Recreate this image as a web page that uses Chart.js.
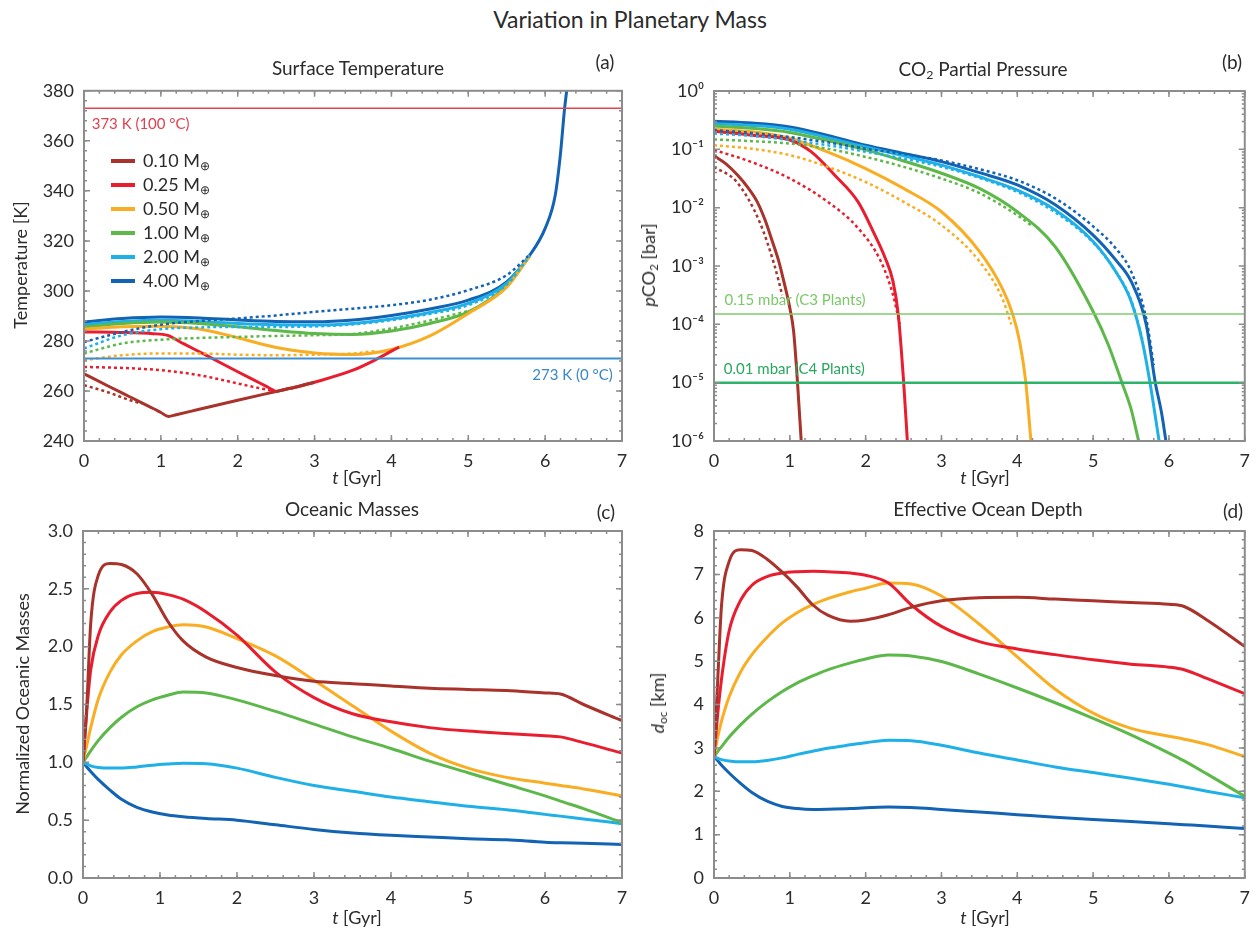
<!DOCTYPE html>
<html>
<head>
<meta charset="utf-8">
<script src="https://cdn.jsdelivr.net/npm/chart.js@4.4.1/dist/chart.umd.min.js"></script>
<style>
  body { margin: 0; background: #fff; }
  #page { position: relative; width: 1259px; height: 928px; overflow: hidden; font-family: Lato, "Open Sans", sans-serif; color: #2b2b2b; }
  canvas { position: absolute; }
  .txt { position: absolute; transform: translate(-50%, -50%); white-space: nowrap; line-height: 1; z-index: 2; }
  .rot { transform: translate(-50%, -50%) rotate(-90deg); }
  .main { font-size: 23px; }
  .sub { font-size: 19px; }
  .letter { font-size: 19px; }
  .axt { font-size: 18px; }
  sub { font-size: 65%; vertical-align: -0.25em; line-height: 0; }
  .leg { position: absolute; font-size: 18px; line-height: 1; white-space: nowrap; z-index: 2; transform: translateY(-50%); }
  .leg span.sw { display: inline-block; width: 24px; height: 4px; vertical-align: middle; margin-right: 8px; position: relative; top: -1px; }
</style>
</head>
<body>
<div id="page">
  <canvas id="chartA"></canvas>
  <canvas id="chartB"></canvas>
  <canvas id="chartC"></canvas>
  <canvas id="chartD"></canvas>

  <div class="txt main" style="left:630px; top:19px;">Variation in Planetary Mass</div>

  <div class="txt sub" style="left:358px; top:67px;">Surface Temperature</div>
  <div class="txt letter" style="left:605px; top:61px;">(a)</div>
  <div class="txt sub" style="left:983px; top:68px;">CO<sub>2</sub> Partial Pressure</div>
  <div class="txt letter" style="left:1232px; top:61px;">(b)</div>
  <div class="txt sub" style="left:352px; top:508px;">Oceanic Masses</div>
  <div class="txt letter" style="left:606px; top:511px;">(c)</div>
  <div class="txt sub" style="left:988px; top:508px;">Effective Ocean Depth</div>
  <div class="txt letter" style="left:1233px; top:510px;">(d)</div>

  <div class="txt axt" style="left:357px; top:477px;"><i>t</i> [Gyr]</div>
  <div class="txt axt" style="left:985px; top:477px;"><i>t</i> [Gyr]</div>
  <div class="txt axt" style="left:357px; top:917px;"><i>t</i> [Gyr]</div>
  <div class="txt axt" style="left:985px; top:917px;"><i>t</i> [Gyr]</div>

  <div class="txt axt rot" style="left:20px; top:265px;">Temperature [K]</div>
  <div class="txt axt rot" style="left:648px; top:265px;"><i>p</i>CO<sub>2</sub> [bar]</div>
  <div class="txt axt rot" style="left:22px; top:704px;">Normalized Oceanic Masses</div>
  <div class="txt axt rot" style="left:657px; top:703px;"><i>d</i><sub>oc</sub> [km]</div>

  <div id="legend"></div>
</div>

<script>
// planetary masses (Earth masses) and their colours
const massLabels = ["0.10", "0.25", "0.50", "1.00", "2.00", "4.00"];
const massColors = ["#a9322b", "#e91d2e", "#f9ad22", "#5db84a", "#1fb0e8", "#1263b3"];

// reference levels
const boilingK = 373;
const freezingK = 273;
const c3Limit = 1.5e-4;   // bar
const c4Limit = 1e-5;     // bar

// (a) surface temperature [K], solid lines
const tempT010 = [0, 0.3, 0.6, 0.9, 1.0, 1.1, 1.2, 1.5, 2.0, 2.5, 2.6, 2.8, 3.0];
const temp010 = [266.9, 262.2, 257.6, 253.0, 251.4, 249.8, 250.5, 252.7, 256.3, 259.8, 260.5, 261.9, 263.5];
const tempT025 = [0, 0.5, 0.9, 1.08, 1.3, 1.6, 2.0, 2.3, 2.4, 2.5, 2.6, 2.8, 3.0, 3.5, 3.8, 4.1];
const temp025 = [283.6, 283.4, 282.9, 282.3, 278.8, 274.1, 267.7, 263.0, 261.4, 259.8, 260.5, 261.9, 263.5, 268.3, 272.6, 277.6];
const tempT050 = [0, 0.5, 1, 1.5, 2, 2.5, 3, 3.5, 4, 4.5, 5, 5.5, 5.8];
const temp050 = [284.7, 285.7, 285.9, 284.8, 281.3, 277.4, 275.2, 274.6, 276.6, 282.0, 291.0, 301.5, 314.0];
const tempT100 = [0, 0.5, 1, 1.5, 2, 2.5, 3, 3.5, 4, 4.5, 5, 5.5, 5.8];
const temp100 = [285.6, 287.0, 287.6, 287.0, 285.7, 284.2, 283.0, 282.6, 284.0, 287.0, 291.6, 302.0, 314.0];
const tempT200 = [0, 0.5, 1, 1.5, 2, 2.5, 3, 3.5, 4, 4.5, 5, 5.5, 5.8];
const temp200 = [286.5, 287.8, 288.3, 287.8, 287.0, 286.5, 286.4, 287.0, 288.8, 291.4, 295.0, 303.0, 314.0];
const tempT400 = [0, 0.5, 1, 1.5, 2, 2.5, 3, 3.5, 4, 4.5, 5, 5.5, 5.8, 6.0, 6.13, 6.2, 6.25, 6.28];
const temp400 = [287.6, 289.0, 289.6, 289.2, 288.4, 287.8, 287.7, 288.4, 290.2, 292.8, 296.3, 303.6, 314.3, 325, 338, 355, 372, 380];

// (a) dotted variants
const tempDotT010 = [0, 0.3, 0.6, 0.75];
const tempDot010 = [262.3, 259.6, 256.3, 255.0];
const tempDotT025 = [0, 0.5, 1, 1.5, 2, 2.3, 2.5];
const tempDot025 = [269.6, 269.2, 268.3, 266.3, 263.0, 261.0, 259.8];
const tempDotT050 = [0, 0.5, 1, 1.5, 2, 2.5, 3, 3.5, 3.8];
const tempDot050 = [272.3, 274.3, 275.0, 275.0, 274.5, 274.3, 274.5, 275.0, 276.0];
const tempDotT100 = [0, 0.5, 1, 1.5, 2, 2.5, 3, 3.5, 4, 4.5, 5];
const tempDot100 = [275.0, 279.0, 280.5, 281.2, 281.6, 282.0, 282.3, 282.8, 285.0, 288.2, 292.0];
const tempDotT200 = [0, 0.5, 1, 1.5, 2, 2.5, 3, 3.5, 4, 4.5, 5, 5.5, 5.8];
const tempDot200 = [277.0, 282.3, 284.7, 285.4, 285.6, 285.6, 285.8, 286.6, 288.3, 290.8, 294.3, 302.5, 314.0];
const tempDotT400 = [0, 0.5, 1, 1.5, 2, 2.5, 3, 3.5, 4, 4.5, 5, 5.5, 5.8];
const tempDot400 = [279.6, 283.6, 286.5, 288.0, 289.0, 290.2, 291.6, 292.9, 294.3, 296.5, 300.3, 306.3, 314.5];

// (b) CO2 partial pressure, read as log10(bar)
const pco2T010 = [0, 0.15, 0.31, 0.45, 0.57, 0.67, 0.77, 0.85, 0.92, 1.0, 1.05, 1.1, 1.15];
const pco2Log010 = [-1.11, -1.24, -1.44, -1.66, -1.9, -2.2, -2.58, -2.9, -3.26, -3.72, -4.12, -4.97, -6.0];
const pco2T025 = [0, 0.51, 1.0, 1.28, 1.59, 1.9, 2.1, 2.26, 2.36, 2.43, 2.5, 2.55];
const pco2Log025 = [-0.69, -0.76, -0.84, -1.04, -1.44, -1.9, -2.41, -2.87, -3.26, -3.83, -4.97, -6.0];
const pco2T050 = [0, 0.51, 1.0, 1.49, 2.0, 2.5, 3.0, 3.5, 3.8, 3.94, 4.03, 4.11, 4.18];
const pco2Log050 = [-0.655, -0.7, -0.81, -1.04, -1.33, -1.67, -2.07, -2.75, -3.38, -3.83, -4.29, -4.97, -6.0];
const pco2T100 = [0, 0.5, 1, 1.5, 2, 2.5, 3, 3.5, 4, 4.5, 5, 5.2, 5.38, 5.5, 5.6];
const pco2Log100 = [-0.6, -0.64, -0.71, -0.85, -1.01, -1.2, -1.41, -1.67, -2.07, -2.67, -3.78, -4.35, -5.0, -5.45, -6.0];
const pco2T200 = [0, 0.5, 1, 1.5, 2, 2.5, 3, 3.5, 4, 4.5, 5, 5.3, 5.5, 5.65, 5.75, 5.87];
const pco2Log200 = [-0.56, -0.59, -0.655, -0.8, -0.96, -1.11, -1.27, -1.47, -1.7, -2.04, -2.58, -3.1, -3.6, -4.3, -5.0, -6.0];
const pco2T400 = [0, 0.5, 1, 1.5, 2, 2.5, 3, 3.5, 4, 4.5, 5, 5.3, 5.5, 5.7, 5.82, 5.9, 5.96];
const pco2Log400 = [-0.52, -0.55, -0.615, -0.76, -0.93, -1.07, -1.21, -1.4, -1.61, -1.95, -2.47, -2.9, -3.26, -4.0, -5.0, -5.5, -6.0];

// (b) dotted variants
const pco2DotT010 = [0, 0.3, 0.6, 0.8, 0.9];
const pco2DotLog010 = [-1.3, -1.56, -2.24, -3.0, -3.5];
const pco2DotT025 = [0, 0.5, 1, 1.5, 1.9, 2.2, 2.36, 2.45];
const pco2DotLog025 = [-1.01, -1.22, -1.5, -1.9, -2.35, -2.92, -3.49, -4.0];
const pco2DotT050 = [0, 0.5, 1, 1.5, 2, 2.5, 3, 3.5, 3.8, 3.92];
const pco2DotLog050 = [-0.93, -0.99, -1.1, -1.3, -1.56, -1.9, -2.3, -2.92, -3.55, -4.0];
const pco2DotT100 = [0, 0.5, 1, 1.5, 2, 2.5, 3, 3.5, 4, 4.2];
const pco2DotLog100 = [-0.83, -0.86, -0.9, -0.99, -1.13, -1.3, -1.5, -1.75, -2.13, -2.32];
const pco2DotT200 = [0, 0.5, 1, 1.5, 2, 2.5, 3, 3.5, 4, 4.5, 5, 5.3, 5.5, 5.65];
const pco2DotLog200 = [-0.73, -0.77, -0.84, -0.93, -1.04, -1.16, -1.3, -1.49, -1.73, -2.08, -2.6, -3.1, -3.58, -4.25];
const pco2DotT400 = [0, 0.5, 1, 1.5, 2, 2.5, 3, 3.5, 4, 4.5, 5, 5.3, 5.5, 5.7, 5.8];
const pco2DotLog400 = [-0.67, -0.72, -0.79, -0.88, -0.99, -1.08, -1.19, -1.34, -1.53, -1.84, -2.32, -2.7, -3.09, -3.9, -4.7];

// (c) normalized oceanic masses
const tMass = [0, 0.05, 0.1, 0.2, 0.35, 0.5, 0.7, 0.9, 1.1, 1.3, 1.6, 2.0, 2.5, 3.0, 3.5, 4.0, 4.5, 5.0, 5.5, 6.0, 6.2, 6.5, 7.0];
const mass010 = [1.0, 1.5, 2.2, 2.62, 2.72, 2.71, 2.63, 2.45, 2.22, 2.05, 1.91, 1.82, 1.75, 1.7, 1.68, 1.66, 1.64, 1.63, 1.62, 1.6, 1.59, 1.5, 1.36];
const mass025 = [1.0, 1.45, 1.8, 2.1, 2.3, 2.4, 2.46, 2.47, 2.45, 2.41, 2.3, 2.1, 1.78, 1.56, 1.42, 1.35, 1.3, 1.27, 1.25, 1.23, 1.22, 1.17, 1.08];
const mass050 = [1.0, 1.15, 1.3, 1.55, 1.78, 1.93, 2.05, 2.13, 2.17, 2.19, 2.17, 2.07, 1.92, 1.71, 1.49, 1.27, 1.08, 0.95, 0.87, 0.82, 0.8, 0.77, 0.71];
const mass100 = [1.0, 1.05, 1.1, 1.19, 1.3, 1.39, 1.48, 1.54, 1.58, 1.608, 1.6, 1.54, 1.44, 1.33, 1.22, 1.12, 1.01, 0.91, 0.81, 0.71, 0.665, 0.6, 0.48];
const mass200 = [1.0, 0.985, 0.97, 0.955, 0.95, 0.95, 0.96, 0.975, 0.985, 0.992, 0.988, 0.95, 0.87, 0.8, 0.75, 0.7, 0.66, 0.62, 0.59, 0.55, 0.535, 0.51, 0.47];
const mass400 = [1.0, 0.96, 0.92, 0.85, 0.76, 0.68, 0.61, 0.57, 0.545, 0.53, 0.515, 0.5, 0.46, 0.42, 0.39, 0.37, 0.355, 0.34, 0.33, 0.31, 0.305, 0.3, 0.29];

// (d) effective ocean depth [km]
const tDepth = [0, 0.05, 0.1, 0.2, 0.35, 0.5, 0.7, 0.9, 1.1, 1.3, 1.5, 1.8, 2.0, 2.3, 2.6, 3.0, 3.5, 4.0, 4.5, 5.0, 5.5, 6.0, 6.2, 6.5, 7.0];
const depth010 = [2.8, 4.6, 6.3, 7.3, 7.57, 7.55, 7.35, 7.05, 6.7, 6.3, 6.06, 5.92, 5.95, 6.07, 6.24, 6.39, 6.46, 6.47, 6.43, 6.39, 6.35, 6.31, 6.26, 5.95, 5.34];
const depth025 = [2.8, 3.8, 4.6, 5.7, 6.4, 6.75, 6.95, 7.03, 7.06, 7.07, 7.06, 7.03, 6.98, 6.8, 6.3, 5.8, 5.45, 5.28, 5.15, 5.03, 4.93, 4.86, 4.8, 4.6, 4.25];
const depth050 = [2.8, 3.25, 3.62, 4.18, 4.75, 5.15, 5.55, 5.88, 6.12, 6.3, 6.44, 6.6, 6.68, 6.8, 6.78, 6.5, 5.85, 5.1, 4.35, 3.8, 3.45, 3.27, 3.2, 3.08, 2.8];
const depth100 = [2.8, 2.92, 3.03, 3.25, 3.53, 3.78, 4.06, 4.3, 4.5, 4.66, 4.8, 4.96, 5.05, 5.14, 5.12, 4.99, 4.7, 4.38, 4.04, 3.68, 3.3, 2.88, 2.7, 2.4, 1.88];
const depth200 = [2.8, 2.76, 2.73, 2.7, 2.68, 2.68, 2.71, 2.77, 2.85, 2.92, 2.99, 3.07, 3.12, 3.175, 3.165, 3.06, 2.88, 2.72, 2.56, 2.43, 2.3, 2.16, 2.1, 2.0, 1.85];
const depth400 = [2.8, 2.7, 2.6, 2.42, 2.18, 1.97, 1.77, 1.65, 1.6, 1.58, 1.585, 1.6, 1.62, 1.635, 1.625, 1.58, 1.52, 1.46, 1.4, 1.35, 1.3, 1.25, 1.23, 1.2, 1.14];

const FONT = "Lato, 'Open Sans', sans-serif";
const TICK_COLOR = "#2b2b2b";
const FRAME_COLOR = "#8c8c8c";

function pts(xs, ys) {
  return xs.map((x, i) => ({ x: x, y: ys[i] }));
}
function logPts(xs, es) {
  return xs.map((x, i) => ({ x: x, y: Math.pow(10, es[i]) }));
}
function curve(data, color, dotted) {
  return {
    data: data,
    borderColor: color,
    borderWidth: dotted ? 2.5 : 3,
    borderDash: dotted ? [3, 3] : [],
    pointRadius: 0,
    cubicInterpolationMode: "monotone",
    fill: false
  };
}
function flat(level, color, width) {
  return { data: [{ x: 0, y: level }, { x: 7, y: level }], borderColor: color, borderWidth: width, pointRadius: 0, fill: false };
}
function steps(min, max, step) {
  const out = [];
  for (let v = min; v <= max + 1e-9; v += step) out.push(+v.toFixed(6));
  return out;
}

// box with tick marks pointing inward on all four sides
const frameTicks = {
  id: "frameTicks",
  afterDatasetsDraw(chart, args, opts) {
    const { ctx, chartArea: a, scales } = chart;
    const xs = scales.x, ys = scales.y;
    ctx.save();
    ctx.strokeStyle = FRAME_COLOR;
    ctx.lineWidth = 1.5;
    const tickX = (vals, len) => vals.forEach(v => {
      const p = xs.getPixelForValue(v);
      ctx.beginPath();
      ctx.moveTo(p, a.bottom); ctx.lineTo(p, a.bottom - len);
      ctx.moveTo(p, a.top); ctx.lineTo(p, a.top + len);
      ctx.stroke();
    });
    const tickY = (vals, len) => vals.forEach(v => {
      const p = ys.getPixelForValue(v);
      ctx.beginPath();
      ctx.moveTo(a.left, p); ctx.lineTo(a.left + len, p);
      ctx.moveTo(a.right, p); ctx.lineTo(a.right - len, p);
      ctx.stroke();
    });
    tickX(steps(xs.min, xs.max, opts.xMinor), 3);
    tickX(steps(xs.min, xs.max, 1), 6);
    if (opts.log) {
      const minor = [], major = [];
      for (let e = -6; e <= 0; e++) {
        major.push(Math.pow(10, e));
        if (e < 0) for (let m = 2; m <= 9; m++) minor.push(m * Math.pow(10, e));
      }
      tickY(minor, 3);
      tickY(major, 6);
    } else {
      tickY(steps(ys.min, ys.max, opts.yMinor), 3);
      tickY(steps(ys.min, ys.max, opts.yMajor), 6);
    }
    ctx.lineWidth = 2;
    ctx.strokeRect(a.left, a.top, a.right - a.left, a.bottom - a.top);
    ctx.restore();
  }
};

// text labels for the reference levels, placed in data coordinates
const refText = {
  id: "refText",
  afterDatasetsDraw(chart, args, opts) {
    const { ctx, scales } = chart;
    ctx.save();
    ctx.font = "15px " + FONT;
    ctx.textBaseline = "middle";
    (opts.items || []).forEach(it => {
      ctx.fillStyle = it.color;
      ctx.textAlign = it.align || "left";
      ctx.fillText(it.text, scales.x.getPixelForValue(it.x), scales.y.getPixelForValue(it.y));
    });
    ctx.restore();
  }
};

const SUP = { "-": "\u207B", "0": "\u2070", "1": "\u00B9", "2": "\u00B2", "3": "\u00B3", "4": "\u2074", "5": "\u2075", "6": "\u2076" };
function powerLabel(v) {
  const e = Math.log10(v);
  if (Math.abs(e - Math.round(e)) > 1e-6) return null;
  return "10" + String(Math.round(e)).split("").map(c => SUP[c]).join("");
}

function panel(id, box, area, yScale, datasets, frame, labels) {
  const cv = document.getElementById(id);
  cv.width = box.w; cv.height = box.h;
  cv.style.left = box.x + "px"; cv.style.top = box.y + "px";
  const xH = 30;
  yScale.grid = { display: false, drawTicks: false };
  yScale.border = { display: false };
  yScale.afterFit = s => { s.width = area.l - box.x; };
  return new Chart(cv, {
    type: "line",
    data: { datasets: datasets },
    options: {
      responsive: false,
      animation: false,
      devicePixelRatio: 1,
      layout: { padding: { left: 0, top: area.t - box.y, right: box.x + box.w - area.r, bottom: box.y + box.h - area.b - xH } },
      plugins: {
        legend: { display: false },
        tooltip: { enabled: false },
        frameTicks: frame,
        refText: { items: labels || [] }
      },
      scales: {
        x: {
          type: "linear", min: 0, max: 7,
          ticks: { stepSize: 1, padding: 9, maxRotation: 0, color: TICK_COLOR, font: { family: FONT, size: 18 } },
          grid: { display: false, drawTicks: false },
          border: { display: false },
          afterFit: s => { s.height = xH; }
        },
        y: yScale
      }
    },
    plugins: [frameTicks, refText]
  });
}

const tickFont = { family: FONT, size: 18 };

// (a) Surface Temperature
const tempSolid = [[tempT010, temp010], [tempT025, temp025], [tempT050, temp050], [tempT100, temp100], [tempT200, temp200], [tempT400, temp400]];
const tempDotted = [[tempDotT010, tempDot010], [tempDotT025, tempDot025], [tempDotT050, tempDot050], [tempDotT100, tempDot100], [tempDotT200, tempDot200], [tempDotT400, tempDot400]];
panel("chartA", { x: 0, y: 70, w: 640, h: 410 }, { l: 84, t: 90, r: 622, b: 441 },
  { type: "linear", min: 240, max: 380, ticks: { stepSize: 20, padding: 10, color: TICK_COLOR, font: tickFont } },
  [flat(boilingK, "#e8414f", 1.5), flat(freezingK, "#3b8fd0", 2)]
    .concat(tempDotted.map((s, i) => curve(pts(s[0], s[1]), massColors[i], true)))
    .concat(tempSolid.map((s, i) => curve(pts(s[0], s[1]), massColors[i], false))),
  { xMinor: 0.2, yMinor: 4, yMajor: 20 },
  [
    { text: "373 K (100 \u00B0C)", x: 0.1, y: 366.7, color: "#e0424f", align: "left" },
    { text: "273 K (0 \u00B0C)", x: 6.88, y: 266.3, color: "#3a87c7", align: "right" }
  ]);

// (b) CO2 Partial Pressure
const pco2Solid = [[pco2T010, pco2Log010], [pco2T025, pco2Log025], [pco2T050, pco2Log050], [pco2T100, pco2Log100], [pco2T200, pco2Log200], [pco2T400, pco2Log400]];
const pco2Dotted = [[pco2DotT010, pco2DotLog010], [pco2DotT025, pco2DotLog025], [pco2DotT050, pco2DotLog050], [pco2DotT100, pco2DotLog100], [pco2DotT200, pco2DotLog200], [pco2DotT400, pco2DotLog400]];
panel("chartB", { x: 640, y: 70, w: 619, h: 410 }, { l: 714, t: 91, r: 1251, b: 441 },
  { type: "logarithmic", min: 1e-6, max: 1, ticks: { autoSkip: false, padding: 10, color: TICK_COLOR, font: tickFont, callback: v => powerLabel(v) } },
  [flat(c3Limit, "#7fcd6c", 1.5), flat(c4Limit, "#2eb46a", 2.5)]
    .concat(pco2Dotted.map((s, i) => curve(logPts(s[0], s[1]), massColors[i], true)))
    .concat(pco2Solid.map((s, i) => curve(logPts(s[0], s[1]), massColors[i], false))),
  { xMinor: 0.2, log: true },
  [
    { text: "0.15 mbar (C3 Plants)", x: 0.14, y: 2.6e-4, color: "#79c968", align: "left" },
    { text: "0.01 mbar (C4 Plants)", x: 0.13, y: 1.7e-5, color: "#27a85f", align: "left" }
  ]);

// (c) Oceanic Masses
const massSeries = [mass010, mass025, mass050, mass100, mass200, mass400];
panel("chartC", { x: 0, y: 510, w: 640, h: 410 }, { l: 83, t: 531, r: 622, b: 878 },
  { type: "linear", min: 0, max: 3, ticks: { stepSize: 0.5, padding: 10, color: TICK_COLOR, font: tickFont, callback: v => v.toFixed(1) } },
  massSeries.map((s, i) => curve(pts(tMass, s), massColors[i], false)),
  { xMinor: 0.2, yMinor: 0.1, yMajor: 0.5 });

// (d) Effective Ocean Depth
const depthSeries = [depth010, depth025, depth050, depth100, depth200, depth400];
panel("chartD", { x: 640, y: 510, w: 619, h: 410 }, { l: 714, t: 531, r: 1252, b: 878 },
  { type: "linear", min: 0, max: 8, ticks: { stepSize: 1, padding: 10, color: TICK_COLOR, font: tickFont } },
  depthSeries.map((s, i) => curve(pts(tDepth, s), massColors[i], false)),
  { xMinor: 0.2, yMinor: 0.2, yMajor: 1 });

// legend of panel (a)
const legend = document.getElementById("legend");
massLabels.forEach((m, i) => {
  const row = document.createElement("div");
  row.className = "leg";
  row.style.left = "111px";
  row.style.top = (159.5 + i * 24) + "px";
  row.innerHTML = '<span class="sw" style="background:' + massColors[i] + '"></span>' + m + " M<sub>\u2295</sub>";
  legend.appendChild(row);
});
</script>
</body>
</html>
